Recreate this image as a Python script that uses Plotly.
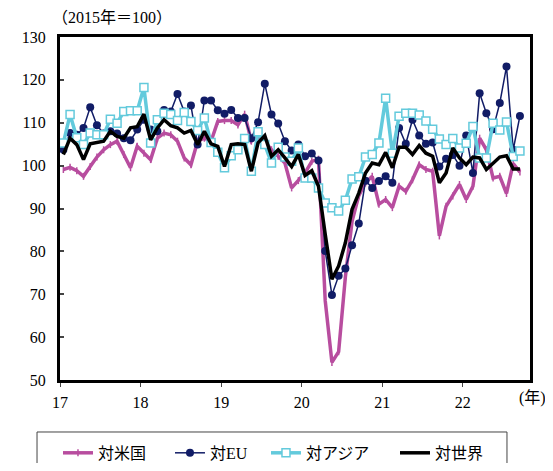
import plotly.graph_objects as go

months = [f"{2017 + k // 12}-{k % 12 + 1:02d}" for k in range(69)]
year_labels = ["17", "18", "19", "20", "21", "22"]

usa = [99.1, 99.6, 98.8, 97.5, 99.8, 102.0, 103.7, 104.9, 105.7, 102.6, 99.5, 104.5,
       102.9, 101.4, 106.4, 107.6, 107.2, 105.7, 101.8, 100.2, 105.7, 106.4, 105.7, 110.3,
       110.5, 110.5, 109.5, 112.0, 105.7, 106.8, 105.7, 103.7, 102.2, 100.6, 94.8, 96.5,
       98.3, 101.0, 101.5, 68.5, 54.1, 56.6, 74.0, 87.0, 93.0, 96.0, 97.5, 91.0,
       92.1, 90.2, 95.2, 94.0, 96.7, 100.2, 99.1, 98.7, 83.6, 90.5, 92.9, 95.6,
       92.1, 95.2, 106.4, 103.7, 97.1, 97.5, 93.5, 100.5, 98.5]
eu = [103.7, 107.6, 107.2, 108.8, 113.6, 109.4, 107.5, 108.0, 107.5, 106.4, 105.9, 108.4,
      110.7, 108.4, 108.0, 113.0, 112.6, 116.7, 112.6, 114.0, 104.9, 115.2, 115.2, 112.9,
      112.1, 113.0, 111.1, 111.1, 106.4, 110.1, 119.1, 111.9, 109.8, 105.7, 103.5, 104.9,
      102.2, 102.8, 101.2, 80.1, 69.8, 74.3, 76.0, 81.4, 86.5, 96.5, 94.8, 96.4,
      97.5, 96.0, 108.8, 105.1, 110.7, 107.0, 105.1, 105.4, 99.8, 101.6, 102.5, 100.0,
      107.0, 98.3, 116.9, 112.2, 108.5, 114.6, 123.1, 103.7, 111.6]
asia = [105.3, 111.9, 106.5, 104.9, 107.6, 107.2, 107.2, 110.8, 109.9, 112.6, 112.8, 112.8,
        118.2, 105.3, 110.7, 112.2, 111.9, 110.5, 112.4, 110.3, 108.2, 111.1, 105.4, 103.1,
        99.5, 102.3, 103.7, 106.3, 98.7, 107.9, 104.9, 100.6, 104.3, 102.0, 101.0, 104.1,
        97.1, 97.1, 94.8, 91.3, 90.2, 89.4, 91.9, 96.9, 97.4, 102.0, 102.6, 105.3,
        115.7, 102.9, 111.5, 112.2, 112.2, 111.8, 110.4, 108.5, 106.2, 104.9, 106.3, 104.1,
        105.2, 109.1, 101.8, 101.8, 109.9, 108.3, 110.2, 102.1, 103.4]
world = [102.6, 106.4, 104.9, 101.4, 105.1, 105.4, 105.7, 108.0, 106.8, 106.4, 108.8, 109.1,
         112.0, 106.0, 108.8, 110.7, 109.3, 108.8, 107.6, 108.2, 104.9, 108.0, 105.1, 104.5,
         99.8, 104.9, 105.1, 104.9, 98.7, 105.3, 107.0, 102.2, 103.7, 101.8, 99.8, 102.6,
         97.7, 98.8, 95.2, 84.0, 73.5, 76.6, 82.0, 89.8, 93.6, 98.3, 100.6, 100.2,
         103.1, 99.5, 104.3, 104.3, 102.6, 104.7, 102.9, 102.2, 96.0, 98.3, 104.1, 101.8,
         100.2, 102.0, 101.8, 99.1, 100.6, 102.0, 102.3, 99.2, 99.2]

x = list(range(len(months)))
FONT = "Liberation Serif, Noto Sans CJK JP, serif"

fig = go.Figure()
fig.add_trace(go.Scatter(
    x=x, y=usa, name="対米国", mode="lines+markers", customdata=months, legendwidth=67,
    line=dict(color="#B84D9F", width=3.5),
    marker=dict(symbol="line-ns", size=5, line=dict(color="#B84D9F", width=1.5))))
fig.add_trace(go.Scatter(
    x=x, y=eu, name="対EU", mode="lines+markers", customdata=months, legendwidth=51,
    line=dict(color="#111C66", width=1.5),
    marker=dict(symbol="circle", size=8, color="#111C66")))
fig.add_trace(go.Scatter(
    x=x, y=asia, name="対アジア", mode="lines+markers", customdata=months, legendwidth=84,
    line=dict(color="#63CADC", width=3.5),
    marker=dict(symbol="square", size=8, color="white", line=dict(color="#63CADC", width=1.5))))
fig.add_trace(go.Scatter(
    x=x, y=world, name="対世界", mode="lines", customdata=months, legendwidth=50,
    line=dict(color="black", width=3.5)))

fig.update_layout(
    width=537, height=455,
    margin=dict(l=52, r=15, t=29, b=83, autoexpand=False),
    paper_bgcolor="white", plot_bgcolor="white",
    font=dict(family=FONT, size=16, color="black"),
    showlegend=True,
    legend=dict(orientation="h", x=-0.0043, y=-0.163, xanchor="left", yanchor="top",
                borderwidth=0, bgcolor="rgba(0,0,0,0)", font=dict(size=16, family=FONT),
                itemwidth=30, traceorder="normal"),
    xaxis=dict(range=[-0.5, 69.5], tickvals=[-0.5 + 12 * k for k in range(len(year_labels))],
               ticktext=year_labels, ticks="outside", ticklen=4, tickcolor="#444", tickwidth=1,
               showline=True, linewidth=3, linecolor="black", mirror=True,
               showgrid=False, zeroline=False, tickfont=dict(size=16), ticklabelstandoff=2),
    yaxis=dict(range=[50, 130], dtick=10, tick0=50, ticks="inside", ticklen=4, tickcolor="#444",
               tickwidth=1.5, showline=True, linewidth=3, linecolor="black", mirror=True,
               showgrid=False, zeroline=False, tickfont=dict(size=16), ticklabelstandoff=8),
    shapes=[dict(type="rect", xref="paper", yref="paper", x0=-0.0489, x1=0.951,
                 y0=-0.1516, y1=-0.29, line=dict(color="#444", width=1), layer="below")],
    annotations=[
        dict(text="（2015年＝100）", xref="paper", yref="paper", x=-0.021, y=1.058,
             xanchor="left", yanchor="middle", showarrow=False, font=dict(size=16)),
        dict(text="(年)", xref="paper", yref="paper", x=0.972, y=-0.0525,
             xanchor="left", yanchor="middle", showarrow=False, font=dict(size=16)),
    ],
)

fig.write_html("out.html")
